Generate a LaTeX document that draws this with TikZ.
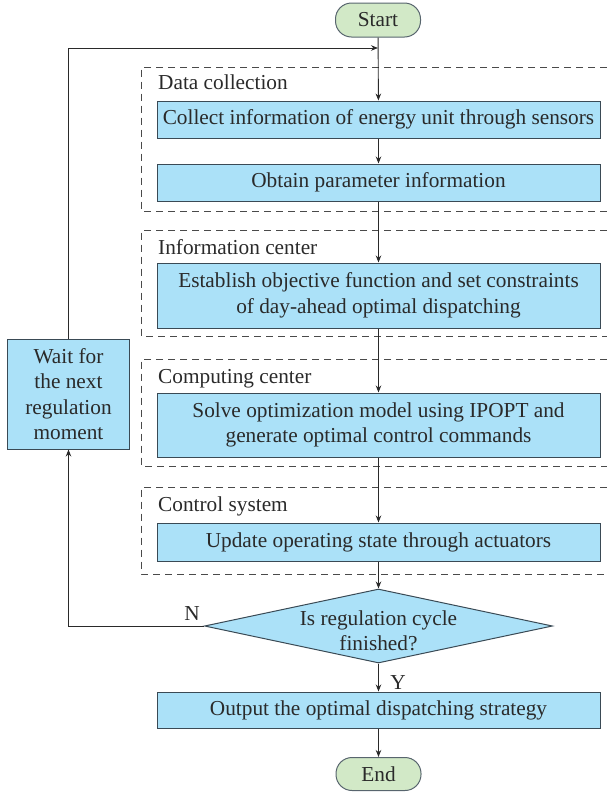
\documentclass[tikz,border=0pt]{standalone}
\usepackage{fontspec}
\setmainfont{Liberation Serif}
\usetikzlibrary{shapes.geometric,arrows.meta}
\definecolor{boxfill}{HTML}{ABE1F8}
\definecolor{termfill}{HTML}{D2E9C7}
\definecolor{edgecol}{HTML}{3A4A55}
\definecolor{txtcol}{HTML}{2A2A2A}
\definecolor{dashcol}{HTML}{4A4A4A}
\begin{document}
\begin{tikzpicture}[x=1pt,y=-1pt,
  font=\fontsize{21.3}{25.5}\selectfont, text=txtcol,
  procbox/.style={draw=edgecol, line width=1pt, fill=boxfill, minimum width=443pt, inner sep=0pt, align=center},
  term/.style={draw=edgecol!85, line width=1pt, fill=termfill, rounded corners=16pt, minimum width=85pt, minimum height=34pt, inner sep=0pt},
  flow/.style={draw=txtcol, line width=0.9pt, -{Stealth[length=7pt,width=5.5pt]}},
  group/.style={draw=dashcol, line width=1pt, dash pattern=on 7pt off 5pt},
  grouplabel/.style={anchor=base west, inner sep=0pt},
  flowlabel/.style={inner sep=0pt}]
\useasboundingbox (0,0) rectangle (607,793);

% group frames
\draw[group] (607,67) -- (141.5,67) -- (141.5,211) -- (607,211);
\draw[group] (607,230) -- (141.5,230) -- (141.5,336) -- (607,336);
\draw[group] (607,359) -- (141.5,359) -- (141.5,466) -- (607,466);
\draw[group] (607,487) -- (141.5,487) -- (141.5,574) -- (607,574);

\node[grouplabel] (g1) at (158,89) {Data collection};
\node[grouplabel] (g2) at (158,254) {Information center};
\node[grouplabel] (g3) at (158,383) {Computing center};
\node[grouplabel] (g4) at (158,511) {Control system};

% nodes
\node[term] (start) at (378,20) {Start};
\node[procbox, minimum height=37pt] (n1) at (378.5,119.5) {Collect information of energy unit through sensors};
\node[procbox, minimum height=37pt] (n2) at (378.5,182.5) {Obtain parameter information};
\node[procbox, minimum height=65pt] (n3) at (378.5,295.5) {Establish objective function and set constraints\\of day-ahead optimal dispatching};
\node[procbox, minimum height=64pt] (n4) at (378.5,425) {Solve optimization model using IPOPT and\\generate optimal control commands};
\node[procbox, minimum height=38pt] (n5) at (378.5,542) {Update operating state through actuators};
\node[draw=edgecol, line width=1pt, fill=boxfill, diamond, minimum width=348pt, minimum height=74pt, inner sep=0pt] (dia) at (378.5,626) {};
\node[align=center, inner sep=0pt] (diatext) at (378.5,631) {Is regulation cycle\\finished?};
\node[procbox, minimum height=36pt] (out) at (378.5,710) {Output the optimal dispatching strategy};
\node[term, minimum height=33pt] (end) at (378.5,774) {End};
\node[draw=edgecol, line width=1pt, fill=boxfill, minimum width=122pt, minimum height=110pt, inner sep=0pt, align=center] (wait) at (68.5,394) {Wait for\\the next\\regulation\\moment};

\coordinate (join) at (378,48);

% connectors
\draw[flow] (start) -- (n1);
\draw[flow] (n1) -- (n2);
\draw[flow] (n2) -- (n3);
\draw[flow] (n3) -- (n4);
\draw[flow] (n4) -- (n5);
\draw[flow] (n5) -- (dia);
\draw[flow] (dia) -- (out);
\draw[flow] (out) -- (end);
\draw[flow] (dia.west) -| (wait.south);
\draw[flow] (wait.north) |- (join);

\node[flowlabel] (nlab) at (192,614) {N};
\node[flowlabel] (ylab) at (398,683) {Y};
\end{tikzpicture}
\end{document}
